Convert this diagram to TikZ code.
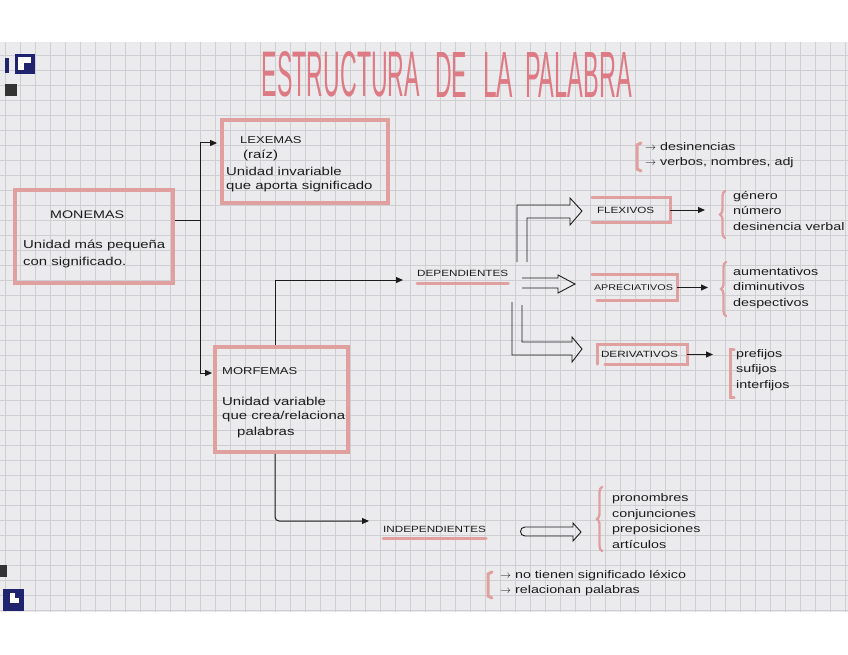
\documentclass[tikz,border=0pt]{standalone}
\usepackage{fontspec}
\usepackage{graphicx}
\setmainfont{Liberation Sans}
\newfontfamily\handfont[FakeStretch=1.3]{Liberation Sans}
\usetikzlibrary{arrows.meta,decorations.pathreplacing}
\definecolor{paper}{RGB}{235,235,237}
\definecolor{gridc}{RGB}{206,206,211}
\definecolor{pinkbox}{RGB}{224,160,160}
\definecolor{pinktitle}{RGB}{222,122,132}
\definecolor{navy}{RGB}{32,36,110}
\definecolor{ink}{RGB}{28,28,28}
\begin{document}
\begin{tikzpicture}[x=1pt,y=-1pt,
  hand/.style={font=\handfont\fontsize{11.5}{15.5}\selectfont, text=ink, inner sep=0pt, anchor=west},
  lst/.style={font=\handfont\fontsize{11}{15.5}\selectfont, text=ink, inner sep=0pt, anchor=west, align=left},
  caplabel/.style={font=\handfont\fontsize{9}{11}\selectfont, text=ink},
  titleword/.style={text=pinktitle, inner sep=0pt},
  pbox/.style={draw=pinkbox, line width=3.8pt, inner sep=0pt},
  pline/.style={draw=pinkbox, line width=3pt, line cap=round},
  pbrace/.style={draw=pinkbox, line width=2.4pt, line cap=round, decorate, decoration={brace, amplitude=5pt}},
  conn/.style={draw=ink, line width=1pt},
  arr/.style={-{Triangle[length=7pt,width=6pt]}},
  hollow/.style={draw=ink, line width=0.9pt, line join=miter}]
\useasboundingbox (0,0) rectangle (848,655);
% paper and grid
\fill[paper] (0,42) rectangle (848,612);
\foreach \gx in {5,20,...,845} \draw[gridc, line width=0.55pt] (\gx,42) -- (\gx,612);
\foreach \gy in {55,70,...,610} \draw[gridc, line width=0.55pt] (0,\gy) -- (848,\gy);
% logos
\fill[navy] (5,58) rectangle (9,73);
\fill[navy] (15,54) rectangle (35,74);
\fill[white] (18,57) rectangle (31,70);
\fill[navy] (24,63) rectangle (31,70);
\fill[black!80] (5,84) rectangle (17,96);
\fill[black!80] (0,565) rectangle (7,577);
\fill[navy] (3,589) rectangle (24,611);
\fill[white] (10,593) rectangle (15,603);
\fill[white] (10,598) rectangle (19,603);
% title
\node[titleword] (title1) at (341,74.5) {\resizebox{158pt}{45pt}{ESTRUCTURA}};
\node[titleword] (title2) at (451,74.5) {\resizebox{32pt}{45pt}{DE}};
\node[titleword] (title3) at (498,74.5) {\resizebox{30pt}{45pt}{LA}};
\node[titleword] (title4) at (578.5,74.5) {\resizebox{107pt}{45pt}{PALABRA}};
% boxes
\node[pbox, minimum width=166pt, minimum height=83pt] (lex) at (305,161.5) {};
\node[pbox, minimum width=158pt, minimum height=93pt] (mon) at (94,236.5) {};
\node[pbox, minimum width=133pt, minimum height=105pt] (mor) at (281.5,399.5) {};
% box texts
\node[hand, font=\handfont\fontsize{10}{12}\selectfont] (lext1) at (240,140) {LEXEMAS};
\node[hand] (lext2) at (243,155) {(raíz)};
\node[hand] (lext3) at (226,171) {Unidad invariable};
\node[hand] (lext4) at (226,187) {que aporta significado};
\node[hand, font=\handfont\fontsize{11}{12}\selectfont] (mont1) at (50,215) {MONEMAS};
\node[hand] (mont2) at (23,245) {Unidad más pequeña};
\node[hand] (mont3) at (23,263) {con significado.};
\node[hand, font=\handfont\fontsize{10}{12}\selectfont] (mort1) at (222,371) {MORFEMAS};
\node[hand] (mort2) at (222,401) {Unidad variable};
\node[hand] (mort3) at (222,417) {que crea/relaciona};
\node[hand] (mort4) at (237,433) {palabras};
% connectors from MONEMAS
\coordinate (j1) at (200,220);
\coordinate (j1t) at (200,143);
\coordinate (j1b) at (200,373);
\draw[conn] (mon.east |- j1) -- (j1);
\draw[conn, arr, shorten >=3pt] (j1) -- (j1t) -- (lex.west |- j1t);
\draw[conn, arr, shorten >=1pt] (j1) -- (j1b) -- (mor.west |- j1b);
% dependientes / independientes
\node[caplabel, anchor=west, inner sep=0pt] (dep) at (417,273) {DEPENDIENTES};
\node[caplabel, anchor=west, inner sep=0pt] (indep) at (383,529) {INDEPENDIENTES};
\draw[pline] (dep.south west |- 0,283) -- (dep.south east |- 0,283);
\draw[pline] (indep.south west |- 0,538) -- (indep.south east |- 0,538);
\coordinate (m1) at (275,280);
\coordinate (m2) at (275,521);
\draw[conn, arr, shorten >=14pt] (mor.north -| m1) -- (m1) -- (m1 -| dep.west);
\draw[conn, arr, shorten >=14pt, rounded corners=4pt] (mor.south -| m2) -- (m2) -- (m2 -| indep.west);
% second-level labels
\node[caplabel, minimum width=78pt, minimum height=24pt, text width=68pt, inner xsep=5pt, inner ysep=0pt, align=left] (flex) at (631,210) {FLEXIVOS};
\node[caplabel, font=\handfont\fontsize{8.3}{11}\selectfont, minimum width=85pt, minimum height=25pt, text width=81pt, inner xsep=2pt, inner ysep=0pt, align=left] (aprec) at (634.5,287.5) {APRECIATIVOS};
\node[caplabel, minimum width=89pt, minimum height=19pt, text width=83pt, inner xsep=3pt, inner ysep=0pt, align=left] (deriv) at (642.5,354.5) {DERIVATIVOS};
\draw[pline] (flex.north west) -- (flex.north east) -- (flex.south east) -- (flex.south west);
\draw[pline] (aprec.north west) -- (aprec.north east) -- (aprec.south east) -- ([xshift=5pt]aprec.south west);
\draw[pline] ([xshift=0pt]deriv.south west) -- (deriv.north west) -- (deriv.north east) -- (deriv.south east) -- ([xshift=7pt]deriv.south west);
% hollow arrows
\draw[hollow] (517,262) -- (517,205) -- (570,205) -- (570,198) -- (582,211) -- (570,225) -- (570,218) -- (527,218) -- (527,262);
\draw[hollow] (522,278) -- (558,278) -- (558,275) -- (575,284) -- (558,293) -- (558,288) -- (522,288);
\draw[hollow] (512,302) -- (512,355) -- (572,355) -- (572,362) -- (582,349) -- (572,337) -- (572,342) -- (522,342) -- (522,305);
\draw[hollow] (525,527) -- (573,527) -- (573,523) -- (581,532) -- (573,541) -- (573,536) -- (525,536) .. controls (519,536) and (519,527) .. (525,527);
% lists
\node[lst] (flexlist) at (733,211) {género\\número\\desinencia verbal};
\node[lst] (apreclist) at (733,288) {aumentativos\\diminutivos\\despectivos};
\node[lst] (derivlist) at (736,370) {prefijos\\sufijos\\interfijos};
\node[lst] (indeplist) at (612,521) {pronombres\\conjunciones\\preposiciones\\artículos};
\node[lst] (notes1) at (645,155) {$\rightarrow$ desinencias\\$\rightarrow$ verbos, nombres, adj};
\node[lst] (notes2) at (500,583) {$\rightarrow$ no tienen significado léxico\\$\rightarrow$ relacionan palabras};
% arrows to lists
\draw[conn, arr, shorten >=28pt] (flex.east) -- (flex.east -| flexlist.west);
\draw[conn, arr, shorten >=25pt] (aprec.east) -- (aprec.east -| apreclist.west);
\draw[conn, arr, shorten >=23pt] (deriv.east) -- (deriv.east -| derivlist.west);
% braces and brackets
\draw[pbrace] (725,238) -- (725,191);
\draw[pbrace] (726,316) -- (726,262);
\draw[pline] (734,349) -- (730,349) -- (730,397) -- (734,397);
\draw[pbrace] (602,551) -- (602,487);
\draw[pline] (641,143) -- (637,145) -- (637,169) -- (641,171);
\draw[pline] (492,572) -- (488,574) -- (488,596) -- (492,598);
\end{tikzpicture}
\end{document}
